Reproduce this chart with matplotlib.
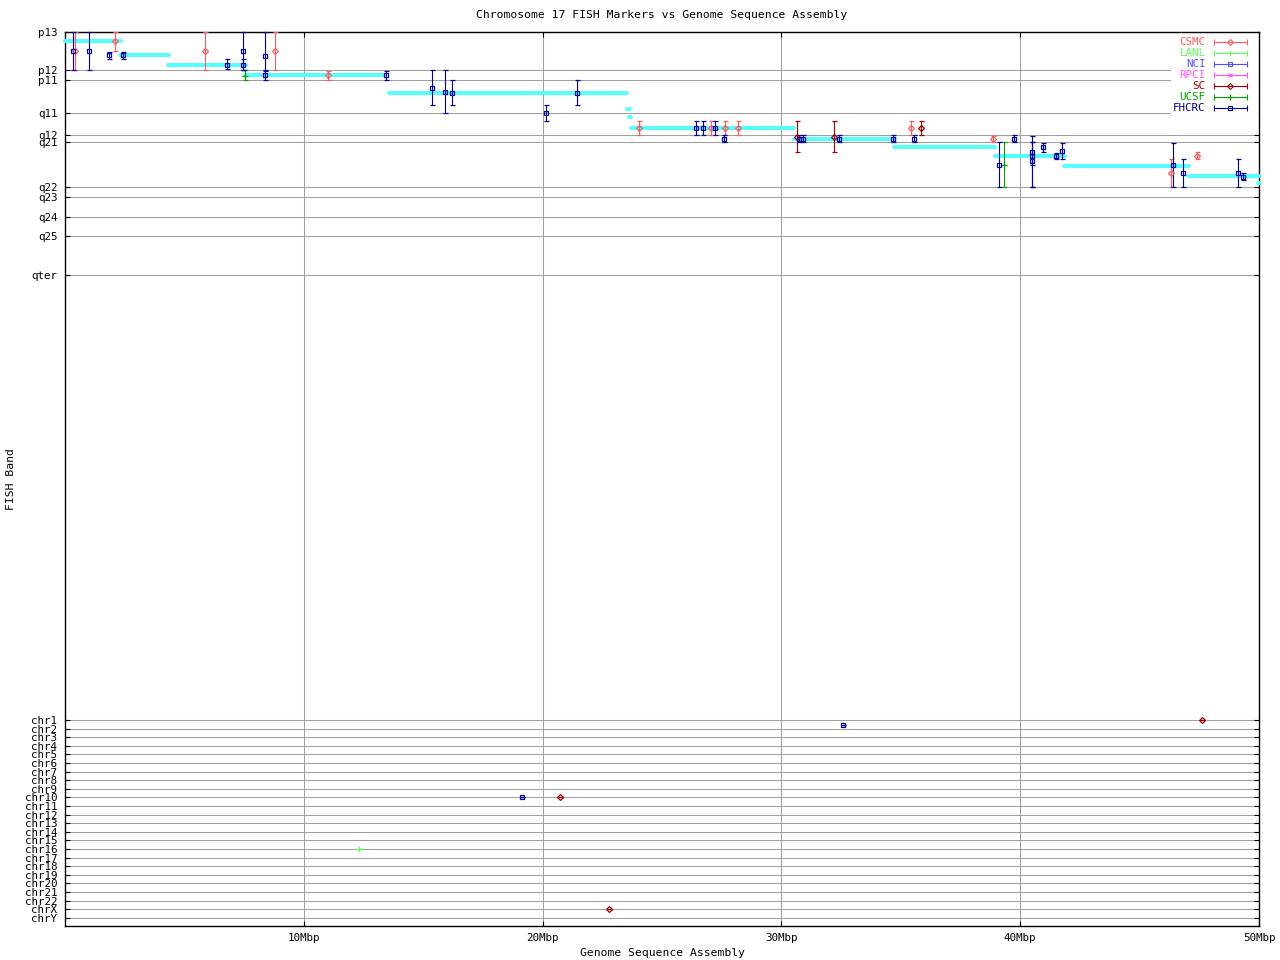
import matplotlib
matplotlib.use('Agg')
import matplotlib.pyplot as plt

plt.rcParams['font.family'] = ['DejaVu Sans Mono']
plt.rcParams['font.size'] = 7.8

# ---- axis labels / ticks ----
band_labels = ['p13', 'p12', 'p11', 'q11', 'q12', 'q21', 'q22', 'q23', 'q24', 'q25', 'qter']
band_pos = [0, 4.42, 5.62, 9.45, 12.01, 12.83, 18.02, 19.19, 21.55, 23.76, 28.22]
chr_labels = ['chr%d' % i for i in range(1, 23)] + ['chrX', 'chrY']
chr_pos = [80 + i for i in range(24)]
x_ticks = [10, 20, 30, 40, 50]
x_tick_labels = ['10Mbp', '20Mbp', '30Mbp', '40Mbp', '50Mbp']

# ---- sequence assembly contigs (Mbp start/end, band position) ----
asm_start = [0.0, 2.30, 4.31, 7.53, 13.56, 23.52, 23.60, 23.70, 30.52, 34.71, 38.94, 41.83, 47.02, 49.94]
asm_end = [2.35, 4.36, 7.58, 13.32, 23.54, 23.64, 23.72, 30.53, 34.76, 38.95, 41.88, 47.07, 50.0, 50.06]
asm_band = [1.01, 2.67, 3.84, 5.00, 7.09, 8.95, 9.88, 11.16, 12.44, 13.37, 14.42, 15.58, 16.74, 17.56]

# ---- FISH markers per lab ----
csmc_x = [0.41, 2.08, 5.85, 8.81, 11.03, 24.05, 27.05, 27.65, 28.19, 35.44, 38.87, 46.32, 47.40]
csmc_y = [2.24, 1.05, 2.24, 2.24, 5.03, 11.16, 11.16, 11.16, 11.16, 11.20, 12.44, 16.36, 14.38]
csmc_lo = [0, 0, 0, 0, 4.50, 10.38, 10.38, 10.38, 10.38, 10.38, 12.06, 14.80, 13.99]
csmc_hi = [4.42, 2.17, 4.42, 4.42, 5.62, 12.01, 12.01, 12.01, 12.01, 12.01, 12.83, 18.06, 14.80]

lanl_x = [12.32]
lanl_y = [95.0]
lanl_lo = [95.0]
lanl_hi = [95.0]

nci_x, nci_y, nci_lo, nci_hi = [], [], [], []
rpci_x, rpci_y, rpci_lo, rpci_hi = [], [], [], []

sc_x = [30.66, 32.20, 35.85, 47.63, 20.74, 22.79]
sc_y = [12.24, 12.24, 11.20, 80.0, 89.0, 102.0]
sc_lo = [10.38, 10.38, 10.38, 80.0, 89.0, 102.0]
sc_hi = [13.99, 13.99, 12.01, 80.0, 89.0, 102.0]

ucsf_x = [7.55, 39.31]
ucsf_y = [5.08, 15.50]
ucsf_lo = [4.42, 12.83]
ucsf_hi = [5.62, 18.06]

fhcrc_x = [0.32, 1.02, 1.86, 2.42, 6.77, 7.47, 7.47, 8.39, 8.39, 13.45, 15.38, 15.92, 16.19, 20.15,
           21.45, 26.44, 26.73, 27.23, 27.61, 30.74, 30.90, 32.42, 34.68, 35.56, 39.12, 39.75, 40.51,
           40.51, 40.51, 40.94, 41.51, 41.76, 46.41, 46.83, 49.13, 49.34, 32.59, 19.15]
fhcrc_y = [2.24, 2.24, 2.71, 2.71, 3.87, 2.24, 3.87, 2.83, 5.03, 5.03, 6.55, 7.01, 7.13, 9.45,
           7.13, 11.16, 11.16, 11.16, 12.48, 12.48, 12.48, 12.48, 12.48, 12.48, 15.50, 12.48, 13.92,
           14.42, 15.00, 13.37, 14.45, 13.84, 15.50, 16.40, 16.40, 16.83, 80.6, 89.0]
fhcrc_lo = [0, 0, 2.29, 2.29, 3.14, 0, 3.14, 0, 4.50, 4.50, 4.45, 4.45, 5.62, 8.52,
            5.62, 10.38, 10.38, 10.38, 11.98, 11.98, 11.98, 11.98, 11.98, 11.98, 12.83, 11.98, 12.06,
            12.83, 12.83, 12.87, 14.03, 12.87, 12.87, 14.80, 14.80, 16.43, 80.6, 89.0]
fhcrc_hi = [4.42, 4.42, 3.14, 3.14, 4.34, 4.42, 4.42, 4.42, 5.62, 5.62, 8.52, 9.45, 8.52, 10.38,
            8.52, 12.01, 12.01, 12.01, 12.83, 12.83, 12.83, 12.83, 12.83, 12.83, 18.06, 12.83, 18.06,
            15.50, 18.06, 13.99, 14.77, 14.77, 18.06, 18.06, 18.06, 17.21, 80.6, 89.0]

labs = [
    ('CSMC', '#ff5a5a', 'D', csmc_x, csmc_y, csmc_lo, csmc_hi),
    ('LANL', '#5aff5a', '+', lanl_x, lanl_y, lanl_lo, lanl_hi),
    ('NCI', '#5050ff', 's', nci_x, nci_y, nci_lo, nci_hi),
    ('RPCI', '#ff50ff', 'x', rpci_x, rpci_y, rpci_lo, rpci_hi),
    ('SC', '#a00000', 'D', sc_x, sc_y, sc_lo, sc_hi),
    ('UCSF', '#00a000', '+', ucsf_x, ucsf_y, ucsf_lo, ucsf_hi),
    ('FHCRC', '#0000a0', 's', fhcrc_x, fhcrc_y, fhcrc_lo, fhcrc_hi),
]
msize = {'s': 3.5, 'D': 3.0, '+': 4.5, 'x': 3.5}

W, H = 1280, 960
fig = plt.figure(figsize=(12.8, 9.6), dpi=100)
L, R, T, B = 65, 1259, 32, 926
ax = fig.add_axes([L / W, 1 - B / H, (R - L) / W, (B - T) / H])
ax.set_xlim(0, 50)
ax.set_ylim(103.95, 0)

grid_c = '#a0a0a0'
for yv in band_pos + chr_pos:
    ax.axhline(yv, color=grid_c, lw=0.75, zorder=1)
for xv in x_ticks[:-1]:
    ax.axvline(xv, color=grid_c, lw=0.75, zorder=1)

# legend background (opaque key area)
ax.add_patch(plt.Rectangle(((1171 - L) / (R - L), 1 - (114 - T) / (B - T)),
                           (R - 1171) / (R - L), (114 - T) / (B - T),
                           transform=ax.transAxes, facecolor='white', edgecolor='none', zorder=2))

# sequence assembly
for xs, xe, yb in zip(asm_start, asm_end, asm_band):
    ax.plot([xs, xe], [yb, yb], color='#55ffff', lw=2.9, solid_capstyle='round',
            zorder=3, clip_on=False)

# markers
for name, col, mk, xs, ys, lo, hi in labs:
    if not xs:
        continue
    yerr = [[y - l for y, l in zip(ys, lo)], [h - y for y, h in zip(ys, hi)]]
    ax.errorbar(xs, ys, yerr=yerr, fmt=mk, color=col, ecolor=col, elinewidth=0.8,
                capsize=1.8, capthick=0.8, markersize=msize[mk],
                markerfacecolor='none', markeredgecolor=col, markeredgewidth=0.9,
                zorder=4, clip_on=False)

# legend (gnuplot style key)
for i, (name, col, mk, *_ ) in enumerate(labs):
    ypx = 42.3 + i * 11.0
    ya = 1 - (ypx - T) / (B - T)
    xt = (1205.5 - L) / (R - L)
    x0 = (1213.5 - L) / (R - L)
    x1 = (1246.5 - L) / (R - L)
    ax.text(xt, ya, name, ha='right', va='center', color=col, transform=ax.transAxes, zorder=6)
    ax.plot([x0, x1], [ya, ya], color=col, lw=0.8, transform=ax.transAxes, zorder=6)
    ax.plot([x0, x1], [ya, ya], ls='none', marker='|', ms=4, mew=0.8, color=col,
            transform=ax.transAxes, zorder=6)
    ax.plot([(x0 + x1) / 2], [ya], ls='none', marker=mk, ms=msize[mk],
            mfc='none', mec=col, mew=0.8, transform=ax.transAxes, zorder=6)

ax.set_yticks(band_pos + chr_pos)
ax.set_yticklabels(band_labels + chr_labels)
ax.set_xticks(x_ticks)
ax.set_xticklabels(x_tick_labels)
ax.tick_params(direction='in', length=3.6, width=0.8, top=True, right=True, pad=5.5)
ax.tick_params(axis='x', pad=5)
for s in ax.spines.values():
    s.set_linewidth(1.0)

ax.set_title('Chromosome 17 FISH Markers vs Genome Sequence Assembly', fontsize=8.2,
             x=0.5, y=1 + (T - 15) / (B - T), va='center', pad=0)
ax.set_xlabel('Genome Sequence Assembly', fontsize=8.2)
ax.xaxis.set_label_coords(0.5, -(953 - B) / (B - T))
ax.xaxis.label.set_va('center')
ax.set_ylabel('FISH Band', fontsize=8.2)
ax.yaxis.set_label_coords(-(L - 11) / (R - L), 0.5)
ax.yaxis.label.set_va('center')

fig.savefig('out.png', dpi=100)
